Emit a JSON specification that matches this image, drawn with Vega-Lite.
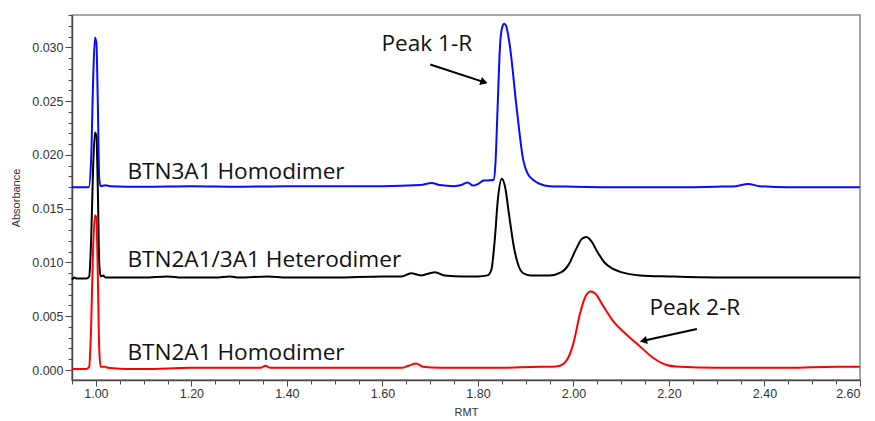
{
  "$schema": "https://vega.github.io/schema/vega-lite/v6.json",
  "width": 788,
  "height": 365,
  "autosize": "none",
  "padding": {"left": 72, "top": 15, "right": 15, "bottom": 41},
  "background": "white",
  "config": {
    "view": {"stroke": "#8a8a8a", "strokeWidth": 1.5},
    "axis": {
      "domainColor": "#4a4a4a",
      "domainWidth": 1.5,
      "tickColor": "#4a4a4a",
      "tickWidth": 1,
      "labelFont": "Liberation Sans",
      "labelFontSize": 12.5,
      "labelColor": "#333333",
      "titleFont": "Liberation Sans",
      "titleFontSize": 11,
      "titleFontWeight": "normal",
      "titleColor": "#333333",
      "grid": false,
      "labelOverlap": false
    }
  },
  "datasets": {
    "btn3a1": [
      {"x": 0.95, "y": 0.0170}, {"x": 0.97, "y": 0.0170}, {"x": 0.985, "y": 0.0170},
      {"x": 0.990, "y": 0.0195}, {"x": 0.994, "y": 0.0265}, {"x": 0.998, "y": 0.0309},
      {"x": 1.001, "y": 0.0305}, {"x": 1.004, "y": 0.0250}, {"x": 1.007, "y": 0.0178},
      {"x": 1.010, "y": 0.0171}, {"x": 1.020, "y": 0.01718}, {"x": 1.030, "y": 0.0171},
      {"x": 1.10, "y": 0.01705}, {"x": 1.20, "y": 0.0171}, {"x": 1.30, "y": 0.01705},
      {"x": 1.40, "y": 0.0171}, {"x": 1.50, "y": 0.0171}, {"x": 1.60, "y": 0.0171},
      {"x": 1.68, "y": 0.0172}, {"x": 1.703, "y": 0.0174}, {"x": 1.72, "y": 0.0172},
      {"x": 1.75, "y": 0.0171}, {"x": 1.765, "y": 0.0172}, {"x": 1.778, "y": 0.01745},
      {"x": 1.790, "y": 0.01715}, {"x": 1.800, "y": 0.0173}, {"x": 1.812, "y": 0.01762},
      {"x": 1.825, "y": 0.01764}, {"x": 1.833, "y": 0.0177}, {"x": 1.837, "y": 0.0195},
      {"x": 1.841, "y": 0.0242}, {"x": 1.8466, "y": 0.0304}, {"x": 1.851, "y": 0.0319},
      {"x": 1.855, "y": 0.0322}, {"x": 1.859, "y": 0.0320}, {"x": 1.866, "y": 0.0304},
      {"x": 1.8815, "y": 0.0242}, {"x": 1.895, "y": 0.0195}, {"x": 1.905, "y": 0.0182},
      {"x": 1.916, "y": 0.01767}, {"x": 1.93, "y": 0.0173}, {"x": 1.95, "y": 0.0171},
      {"x": 2.00, "y": 0.01705}, {"x": 2.10, "y": 0.0170}, {"x": 2.20, "y": 0.0170},
      {"x": 2.30, "y": 0.01705}, {"x": 2.34, "y": 0.0171}, {"x": 2.366, "y": 0.0173},
      {"x": 2.39, "y": 0.0171}, {"x": 2.45, "y": 0.0170}, {"x": 2.55, "y": 0.0170},
      {"x": 2.60, "y": 0.0170}
    ],
    "hetero": [
      {"x": 0.95, "y": 0.0084}, {"x": 0.955, "y": 0.0086}, {"x": 0.96, "y": 0.0085},
      {"x": 0.97, "y": 0.0085}, {"x": 0.98, "y": 0.0085}, {"x": 0.986, "y": 0.0087},
      {"x": 0.990, "y": 0.0120}, {"x": 0.994, "y": 0.0185}, {"x": 0.998, "y": 0.0221},
      {"x": 1.001, "y": 0.0218}, {"x": 1.004, "y": 0.0170}, {"x": 1.007, "y": 0.0100},
      {"x": 1.010, "y": 0.0087}, {"x": 1.015, "y": 0.0088}, {"x": 1.020, "y": 0.0086},
      {"x": 1.03, "y": 0.0086}, {"x": 1.06, "y": 0.0086}, {"x": 1.10, "y": 0.0086},
      {"x": 1.15, "y": 0.0087}, {"x": 1.18, "y": 0.0086}, {"x": 1.25, "y": 0.0086},
      {"x": 1.28, "y": 0.0087}, {"x": 1.30, "y": 0.0086}, {"x": 1.36, "y": 0.0087},
      {"x": 1.40, "y": 0.0086}, {"x": 1.50, "y": 0.0086}, {"x": 1.60, "y": 0.0087},
      {"x": 1.64, "y": 0.0087}, {"x": 1.66, "y": 0.0090}, {"x": 1.68, "y": 0.0088},
      {"x": 1.71, "y": 0.0091}, {"x": 1.73, "y": 0.0088}, {"x": 1.77, "y": 0.0087},
      {"x": 1.80, "y": 0.0087}, {"x": 1.82, "y": 0.0088}, {"x": 1.828, "y": 0.0093},
      {"x": 1.835, "y": 0.0120}, {"x": 1.842, "y": 0.0160}, {"x": 1.850, "y": 0.0178},
      {"x": 1.857, "y": 0.0170}, {"x": 1.865, "y": 0.0145}, {"x": 1.875, "y": 0.0115},
      {"x": 1.885, "y": 0.0097}, {"x": 1.895, "y": 0.0090}, {"x": 1.91, "y": 0.0088},
      {"x": 1.95, "y": 0.0088}, {"x": 1.975, "y": 0.0091}, {"x": 1.99, "y": 0.0098},
      {"x": 2.005, "y": 0.0112}, {"x": 2.018, "y": 0.0122}, {"x": 2.027, "y": 0.01236},
      {"x": 2.037, "y": 0.0120}, {"x": 2.05, "y": 0.0110}, {"x": 2.065, "y": 0.0100},
      {"x": 2.083, "y": 0.0094}, {"x": 2.10, "y": 0.0091}, {"x": 2.14, "y": 0.0088},
      {"x": 2.20, "y": 0.0087}, {"x": 2.30, "y": 0.0086}, {"x": 2.45, "y": 0.0086},
      {"x": 2.60, "y": 0.0086}
    ],
    "btn2a1": [
      {"x": 0.95, "y": 0.0001}, {"x": 0.98, "y": 0.0001}, {"x": 0.986, "y": 0.0003},
      {"x": 0.990, "y": 0.0040}, {"x": 0.994, "y": 0.0110}, {"x": 0.998, "y": 0.0144},
      {"x": 1.001, "y": 0.0142}, {"x": 1.004, "y": 0.0090}, {"x": 1.007, "y": 0.0020},
      {"x": 1.010, "y": 0.0003}, {"x": 1.02, "y": 0.0003}, {"x": 1.025, "y": 0.0002},
      {"x": 1.06, "y": 0.0001}, {"x": 1.10, "y": 0.0001}, {"x": 1.20, "y": 0.0002},
      {"x": 1.30, "y": 0.0002}, {"x": 1.345, "y": 0.0002}, {"x": 1.355, "y": 0.0004},
      {"x": 1.365, "y": 0.0002}, {"x": 1.45, "y": 0.0002}, {"x": 1.55, "y": 0.0002},
      {"x": 1.64, "y": 0.0002}, {"x": 1.655, "y": 0.0004}, {"x": 1.671, "y": 0.0006},
      {"x": 1.685, "y": 0.0003}, {"x": 1.72, "y": 0.0002}, {"x": 1.85, "y": 0.0002},
      {"x": 1.93, "y": 0.0003}, {"x": 1.955, "y": 0.0003}, {"x": 1.972, "y": 0.0004},
      {"x": 1.986, "y": 0.0009}, {"x": 2.000, "y": 0.0025}, {"x": 2.014, "y": 0.0053},
      {"x": 2.026, "y": 0.0069}, {"x": 2.036, "y": 0.0073}, {"x": 2.046, "y": 0.0071},
      {"x": 2.059, "y": 0.0062}, {"x": 2.084, "y": 0.0045}, {"x": 2.112, "y": 0.00326},
      {"x": 2.140, "y": 0.00217}, {"x": 2.168, "y": 0.00109}, {"x": 2.195, "y": 0.00047},
      {"x": 2.223, "y": 0.0003}, {"x": 2.30, "y": 0.0002}, {"x": 2.45, "y": 0.0002},
      {"x": 2.55, "y": 0.0003}, {"x": 2.60, "y": 0.0003}
    ],
    "labels": [
      {"label": "BTN3A1 Homodimer", "x": 1.066, "y": 0.01774},
      {"label": "BTN2A1/3A1 Heterodimer", "x": 1.066, "y": 0.00961},
      {"label": "BTN2A1 Homodimer", "x": 1.066, "y": 0.00093},
      {"label": "Peak 1-R", "x": 1.598, "y": 0.0297},
      {"label": "Peak 2-R", "x": 2.159, "y": 0.00512}
    ],
    "arrows": [
      {"x": 1.700, "y": 0.02842, "x2": 1.8128, "y2": 0.02678, "angle": 108},
      {"x": 2.2584, "y": 0.00382, "x2": 2.1464, "y2": 0.00272, "angle": 257.5}
    ]
  },
  "encoding": {
    "x": {
      "field": "x",
      "type": "quantitative",
      "scale": {"domain": [0.95, 2.6], "nice": false, "zero": false},
      "axis": {
        "title": "RMT",
        "titlePadding": 7,
        "values": [0.95, 1.0, 1.05, 1.1, 1.15, 1.2, 1.25, 1.3, 1.35, 1.4, 1.45, 1.5, 1.55, 1.6, 1.65, 1.7, 1.75, 1.8, 1.85, 1.9, 1.95, 2.0, 2.05, 2.1, 2.15, 2.2, 2.25, 2.3, 2.35, 2.4, 2.45, 2.5, 2.55, 2.6],
        "labelExpr": "round(datum.value*100) % 20 == 0 ? format(datum.value, '.2f') : ''",
        "tickSize": {"condition": {"test": "round(datum.value*100) % 20 == 0", "value": 6}, "value": 4},
        "labelPadding": 1
      }
    },
    "y": {
      "field": "y",
      "type": "quantitative",
      "scale": {"domain": [-0.00093, 0.03302], "nice": false, "zero": false},
      "axis": {
        "title": "Absorbance",
        "titlePadding": 10,
        "values": [0, 0.001, 0.002, 0.003, 0.004, 0.005, 0.006, 0.007, 0.008, 0.009, 0.01, 0.011, 0.012, 0.013, 0.014, 0.015, 0.016, 0.017, 0.018, 0.019, 0.02, 0.021, 0.022, 0.023, 0.024, 0.025, 0.026, 0.027, 0.028, 0.029, 0.03, 0.031, 0.032, 0.033],
        "labelExpr": "round(datum.value*1000) % 5 == 0 ? format(datum.value, '.3f') : ''",
        "tickSize": {"condition": {"test": "round(datum.value*1000) % 5 == 0", "value": 7}, "value": 4},
        "labelPadding": 2
      }
    }
  },
  "layer": [
    {
      "data": {"name": "btn3a1"},
      "mark": {"type": "line", "color": "#0a0aff", "strokeWidth": 2, "interpolate": "monotone"}
    },
    {
      "data": {"name": "hetero"},
      "mark": {"type": "line", "color": "#000000", "strokeWidth": 2, "interpolate": "monotone"}
    },
    {
      "data": {"name": "btn2a1"},
      "mark": {"type": "line", "color": "#ff0000", "strokeWidth": 2, "interpolate": "monotone"}
    },
    {
      "data": {"name": "labels"},
      "mark": {"type": "text", "font": "Open Sans", "fontSize": 22.6, "align": "left", "baseline": "alphabetic", "color": "#111111"},
      "encoding": {"text": {"field": "label"}}
    },
    {
      "data": {"name": "arrows"},
      "mark": {"type": "rule", "color": "#000000", "strokeWidth": 2},
      "encoding": {"x2": {"field": "x2"}, "y2": {"field": "y2"}}
    },
    {
      "data": {"name": "arrows"},
      "mark": {"type": "point", "shape": "triangle-up", "filled": true, "color": "#000000", "size": 70, "opacity": 1},
      "encoding": {
        "x": {"field": "x2", "type": "quantitative"},
        "y": {"field": "y2", "type": "quantitative"},
        "angle": {"field": "angle", "type": "quantitative", "scale": null}
      }
    }
  ]
}
